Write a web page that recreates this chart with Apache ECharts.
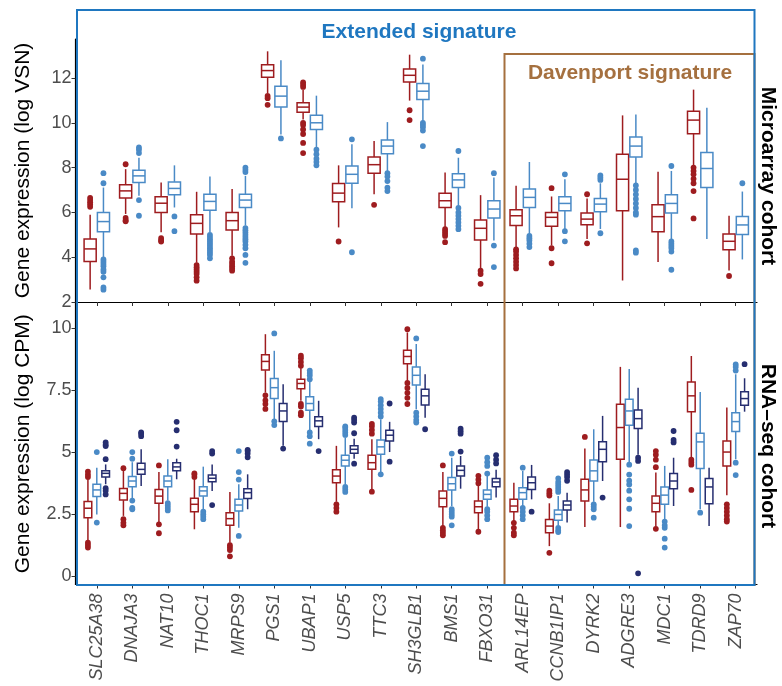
<!DOCTYPE html>
<html><head><meta charset="utf-8">
<script src="https://cdn.jsdelivr.net/npm/echarts@6/dist/echarts.min.js"></script>
<style>html,body{margin:0;padding:0;background:#fff}#c{width:782px;height:686px}</style>
</head><body><div id="c"></div>
<script>
const genes = ['SLC25A38','DNAJA3','NAT10','THOC1','MRPS9','PGS1','UBAP1','USP5','TTC3','SH3GLB1','BMS1','FBXO31','ARL14EP','CCNB1IP1','DYRK2','ADGRE3','MDC1','TDRD9','ZAP70'];
const microTicks = [2,4,6,8,10,12];
const rnaTicks = [0,2.5,5,7.5,10];

// boxes: [lowWhisker, q1, median, q3, highWhisker]
const microRedBox = [
 [2.56,3.81,4.37,4.81,5.90],[5.93,6.64,6.96,7.23,7.93],[5.11,6.0,6.41,6.7,7.33],[3.75,5.04,5.51,5.9,6.92],
 [4.07,5.21,5.63,6.0,7.04],[11.33,12.03,12.33,12.59,13.19],[10.15,10.47,10.7,10.89,11.48],[5.33,6.47,6.86,7.29,8.1],
 [6.81,7.75,8.13,8.47,9.19],[10.99,11.82,12.12,12.4,13.04],[5.33,6.22,6.52,6.86,7.78],[3.51,4.77,5.29,5.66,6.77],
 [4.44,5.41,5.85,6.12,7.19],[4.52,5.38,5.78,5.99,6.71],[4.81,5.45,5.7,5.97,6.62],[2.96,6.07,7.48,8.59,10.33],
 [3.78,5.14,5.81,6.34,7.81],[8.07,9.51,10.12,10.52,11.48],[3.41,4.33,4.71,5.04,5.85]];
const microRedOut = [
 [6.25,6.35,6.45,6.55,6.65],[8.15,5.75,5.65,5.6],[4.85,4.75,4.7],[3.65,3.55,3.45,3.35,3.25,3.1,2.95],
 [3.95,3.8,3.7,3.6,3.5,3.4],[11.2,11.1,10.8],[11.6,11.7,11.8,10.0,9.9,9.7,9.5,9.1,8.65],[4.7],
 [6.34],[10.56,10.12],[5.25,5.15,5.05,4.95,4.67],[3.4,3.25,2.81],
 [4.35,4.25,4.1,3.95,3.8,3.65,3.5],[7.08,4.4,3.73],[6.81,4.62],[],
 [],[8.0,7.85,7.7,7.5,7.3,6.95,5.73],[3.16]];
const microBlueBox = [
 [4.0,5.14,5.59,6.0,7.11],[6.74,7.33,7.63,7.88,8.44],[6.22,6.79,7.07,7.36,8.1],[5.11,6.1,6.49,6.81,7.6],
 [5.41,6.22,6.55,6.81,7.63],[9.48,10.71,11.19,11.63,12.79],[8.89,9.7,10.0,10.34,11.21],[6.18,7.3,7.7,8.07,9.04],
 [7.85,8.62,8.96,9.23,10.03],[10.07,11.04,11.41,11.75,12.6],[6.3,7.11,7.45,7.73,8.44],[4.74,5.75,6.15,6.52,7.56],
 [5.04,6.22,6.67,7.04,8.25],[5.26,6.07,6.4,6.7,7.48],[5.26,6.03,6.37,6.62,7.3],[7.29,8.47,8.96,9.36,10.37],
 [4.81,5.97,6.4,6.79,7.85],[4.81,7.11,7.96,8.67,10.67],[3.9,5.01,5.44,5.82,6.93]];
const microBlueOut = [
 [7.3,7.75,3.9,3.8,3.7,3.6,3.45,3.35,3.1,2.65,2.55],[8.9,8.8,8.65,6.55,5.85],[5.82,5.16],
 [5.0,4.9,4.8,4.7,4.6,4.5,4.4,4.3,4.2,4.1,3.95],[7.8,7.9,8.0,5.3,5.2,5.1,5.0,4.9,4.8,4.7,4.55,4.4,4.1,3.75],
 [9.3],[8.8,8.6,8.4,8.25,8.1],[9.26,4.22],[7.75,7.6,7.4,7.1,6.95],[12.86,10.0,9.9,9.8,9.65,8.96],
 [8.74,6.2,6.0,5.85,5.7,5.55,5.4,5.25],[7.75,4.52,3.56],[4.95,4.85,4.75,4.6,4.45],[7.7,5.16,4.71],
 [7.45,7.55,7.65,5.07],[7.2,7.0,6.8,6.6,6.4,6.2,6.0,5.9,4.3,4.2],[8.07,4.7,4.6,4.5,4.4,4.25,3.44],[],[7.3]];

const rnaRedBox = [
 [1.42,2.36,2.74,3.01,3.9],[2.43,3.07,3.34,3.54,4.25],[2.16,2.94,3.23,3.5,4.2],[1.89,2.6,2.9,3.14,3.9],
 [1.35,2.05,2.32,2.56,3.4],[7.41,8.32,8.67,8.94,9.77],[7.08,7.57,7.78,7.95,8.42],[3.0,3.77,4.04,4.29,5.26],
 [3.5,4.31,4.58,4.88,5.53],[7.88,8.58,8.87,9.12,9.84],[2.02,2.8,3.14,3.44,4.2],[1.89,2.56,2.8,3.03,3.65],
 [2.22,2.6,2.83,3.1,3.77],[1.21,1.75,2.02,2.29,2.94],[1.98,3.03,3.48,3.91,5.15],[1.98,4.72,6.0,6.94,8.45],
 [2.0,2.6,2.94,3.23,4.18],[4.8,6.64,7.28,7.84,8.89],[3.26,4.45,5.01,5.46,6.81]];
const rnaRedOut = [
 [4.0,4.1,4.22,1.35,1.25,1.15],[4.36,2.3,2.15,2.05],[4.47,2.09,1.73],[4.0,4.1,4.15],[1.25,1.15,1.05,0.8],
 [7.3,7.1,6.95,6.75],[8.5,8.65,8.8,8.9,6.95,6.85,6.6,6.5],[2.9,2.75,2.6],[5.75,5.9,6.05,6.15,3.41],
 [9.97,7.8,7.6,7.4,7.2,6.95],[4.47,1.95,1.85,1.75,1.65],[3.75,3.9,4.05,1.79],[2.15,1.95,1.75,1.65],
 [3.25,3.35,3.45,0.94],[5.62],[],[4.4,4.7,4.9,5.05,1.91],[4.7,4.6,4.5,3.48],[2.9,2.75,2.6,2.45,2.3,2.2]];
const rnaBlueBox = [
 [2.49,3.21,3.48,3.71,4.38],[3.14,3.61,3.84,4.02,4.6],[3.05,3.61,3.84,4.04,4.72],[2.7,3.23,3.44,3.61,4.42],
 [1.95,2.63,2.87,3.1,3.71],[6.33,7.17,7.61,7.98,9.1],[5.86,6.7,6.97,7.24,7.85],[3.71,4.45,4.68,4.88,5.6],
 [4.2,4.92,5.22,5.5,6.33],[6.74,7.72,8.11,8.45,9.37],[2.83,3.48,3.73,3.98,4.78],[2.8,3.1,3.3,3.48,4.04],
 [2.83,3.1,3.37,3.57,4.25],[2.05,2.26,2.49,2.67,3.23],[3.0,3.84,4.25,4.69,5.93],[4.58,6.09,6.67,7.14,8.36],
 [2.29,2.9,3.27,3.6,4.45],[2.7,4.35,5.42,5.77,7.44],[4.72,5.84,6.24,6.6,8.15]];
const rnaBlueOut = [
 [5.01,2.16],[5.01,4.74,3.05,2.75,2.7],[2.95,2.85,2.75,2.65],[2.6,2.5,2.4,2.3],[5.05,4.2,3.9,1.62],
 [9.8,6.25,6.1],[7.95,8.1,8.2,8.3,5.8,5.65,5.35],[5.7,5.8,5.9,6.0,6.05,3.6,3.5,3.4],
 [6.45,6.6,6.75,6.9,7.05,7.15,4.11],[9.6,6.6,6.45,6.3,6.2],[4.95,2.7,2.6,2.5,2.4,2.05],
 [4.14,4.45,4.6,4.78,2.7,2.6,2.45,2.3],[4.38,2.75,2.6,2.45,2.3],[3.4,3.5,3.6,3.7,3.8,3.95,1.95,1.85,1.78],
 [2.9,2.8,2.7,2.36],[4.5,4.1,3.85,3.7,3.45,3.1,2.72,2.02],[2.2,2.05,1.95,1.51,1.15],[2.56],[8.3,8.45,8.55,4.58,4.08]];
const rnaNavyBox = [
 [3.71,4.0,4.15,4.25,4.51],[3.64,4.11,4.31,4.56,5.12],[3.91,4.25,4.41,4.58,4.74],[3.44,3.81,3.95,4.08,4.51],
 [2.7,3.13,3.37,3.53,4.11],[5.26,6.24,6.67,6.97,7.75],[5.53,6.04,6.27,6.44,7.08],[4.74,4.96,5.12,5.26,5.55],
 [5.01,5.46,5.69,5.89,6.23],[6.4,6.91,7.28,7.55,8.15],[3.53,4.04,4.27,4.45,4.85],[3.17,3.61,3.8,3.94,4.29],
 [3.1,3.5,3.77,4.0,4.49],[2.16,2.67,2.87,3.03,3.37],[3.84,4.62,5.12,5.43,6.47],[4.9,5.96,6.36,6.71,7.61],
 [2.83,3.53,3.84,4.14,4.78],[2.02,2.92,3.6,3.94,4.38],[6.64,6.9,7.17,7.45,7.99]];
const rnaNavyOut = [
 [4.72,5.25,5.3,5.4,3.55,3.45,3.3],[5.65,5.75,5.8],[5.23,5.89,6.23],[4.95,5.05,2.87],[4.8,4.95,5.05,5.1],
 [5.15],[5.05],[6.2,6.3,6.4,5.77,4.54],[6.97,4.62],[5.93],[5.03,5.75,5.85,5.95],[4.55,4.7,4.88],[2.6],
 [3.85,4.0,4.1,4.2],[3.17],[4.78,4.65,0.11],[5.4,5.5,5.86],[],[8.56]];

const C_RED = '#9e1c1f', C_BLUE = '#4a8ac6', C_NAVY = '#262e70';
const FONT = "'Liberation Sans', Arial, sans-serif";
const DODGE = 0.75;

function offsetX(api, k, n) {
  const band = api.size([1, 0])[0];
  const slot = band * DODGE / n;
  return { dx: (k - (n - 1) / 2) * slot, slot: slot };
}
function boxSeries(box, k, n, color, gi) {
  return {
    type: 'custom', coordinateSystem: 'cartesian2d', xAxisIndex: gi, yAxisIndex: gi,
    data: box.map((b, i) => [i].concat(b)),
    encode: { x: 0, y: [1, 2, 3, 4, 5] },
    renderItem: function (params, api) {
      const x = api.value(0);
      const o = offsetX(api, k, n);
      const cx = api.coord([x, api.value(3)])[0] + o.dx;
      const py = v => api.coord([x, api.value(v)])[1];
      const lo = py(1), q1 = py(2), md = py(3), q3 = py(4), hi = py(5);
      const w = o.slot - 1.2;
      const st = { stroke: color, lineWidth: 1.5, fill: null };
      return { type: 'group', children: [
        { type: 'line', shape: { x1: cx, y1: hi, x2: cx, y2: q3 }, style: st },
        { type: 'line', shape: { x1: cx, y1: q1, x2: cx, y2: lo }, style: st },
        { type: 'rect', shape: { x: cx - w / 2, y: q3, width: w, height: q1 - q3 }, style: { stroke: color, lineWidth: 1.5, fill: '#fff' } },
        { type: 'line', shape: { x1: cx - w / 2, y1: md, x2: cx + w / 2, y2: md }, style: st }
      ]};
    }
  };
}
function outSeries(outs, k, n, color, gi) {
  const data = [];
  outs.forEach((arr, i) => arr.forEach(v => data.push([i, v])));
  return {
    type: 'custom', coordinateSystem: 'cartesian2d', xAxisIndex: gi, yAxisIndex: gi,
    data: data, encode: { x: 0, y: 1 },
    renderItem: function (params, api) {
      const o = offsetX(api, k, n);
      const p = api.coord([api.value(0), api.value(1)]);
      return { type: 'circle', shape: { cx: p[0] + o.dx, cy: p[1], r: 2.9 }, style: { fill: color } };
    }
  };
}

const idx = genes.map((g, i) => i);
function xAxis(gi, showLabels) {
  return {
    type: 'value', gridIndex: gi, min: -0.6, max: 18.6,
    axisLine: { show: true, onZero: false, lineStyle: { color: '#000', width: 1.2 } },
    axisTick: { show: true, length: 4, customValues: idx, lineStyle: { color: '#333' } },
    splitLine: { show: false },
    axisLabel: { show: showLabels, customValues: idx, rotate: 90, margin: 9,
      formatter: v => genes[Math.round(v)], fontStyle: 'italic', fontSize: 18, color: '#4d4d4d', fontFamily: FONT }
  };
}
function yAxis(gi, min, max, ticks, name) {
  return {
    type: 'value', gridIndex: gi, min: min, max: max,
    name: name, nameLocation: 'middle', nameGap: 42,
    nameTextStyle: { fontSize: 21, color: '#000', fontFamily: FONT },
    axisLine: { show: true, onZero: false, lineStyle: { color: '#000', width: 1.2 } },
    axisTick: { show: true, length: 4, customValues: ticks, lineStyle: { color: '#333' } },
    splitLine: { show: false },
    axisLabel: { customValues: ticks, margin: 4, fontSize: 18, color: '#4d4d4d', fontFamily: FONT }
  };
}

const chart = echarts.init(document.getElementById('c'), null, { renderer: 'canvas' });
chart.setOption({
  animation: false,
  backgroundColor: '#fff',
  grid: [
    { left: 75.5, right: 25, top: 39, height: 263 },
    { left: 75.5, right: 25, top: 303, height: 281.5 }
  ],
  xAxis: [xAxis(0, false), xAxis(1, true)],
  yAxis: [yAxis(0, 2, 13.74, microTicks, 'Gene expression (log VSN)'),
          yAxis(1, -0.34, 11.03, rnaTicks, 'Gene expression (log CPM)')],
  series: [
    boxSeries(microRedBox, 0, 2, C_RED, 0), outSeries(microRedOut, 0, 2, C_RED, 0),
    boxSeries(microBlueBox, 1, 2, C_BLUE, 0), outSeries(microBlueOut, 1, 2, C_BLUE, 0),
    boxSeries(rnaRedBox, 0, 3, C_RED, 1), outSeries(rnaRedOut, 0, 3, C_RED, 1),
    boxSeries(rnaBlueBox, 1, 3, C_BLUE, 1), outSeries(rnaBlueOut, 1, 3, C_BLUE, 1),
    boxSeries(rnaNavyBox, 2, 3, C_NAVY, 1), outSeries(rnaNavyOut, 2, 3, C_NAVY, 1)
  ],
  graphic: [
    { type: 'rect', z: 100, shape: { x: 504.5, y: 54, width: 250, height: 531 },
      style: { fill: null, stroke: '#a5703f', lineWidth: 2 } },
    { type: 'rect', z: 101, shape: { x: 77, y: 10, width: 677.5, height: 575 },
      style: { fill: null, stroke: '#1f77c0', lineWidth: 2 } },
    { type: 'text', z: 102, x: 419, y: 32, style: { text: 'Extended signature', fill: '#1f77c0',
      font: "bold 21px 'Liberation Sans', Arial, sans-serif", align: 'center', verticalAlign: 'middle' } },
    { type: 'text', z: 102, x: 630, y: 73, style: { text: 'Davenport signature', fill: '#a5703f',
      font: "bold 21px 'Liberation Sans', Arial, sans-serif", align: 'center', verticalAlign: 'middle' } },
    { type: 'text', z: 102, x: 768, y: 176, rotation: -Math.PI / 2, style: { text: 'Microarray cohort', fill: '#000',
      font: "bold 21px 'Liberation Sans', Arial, sans-serif", align: 'center', verticalAlign: 'middle' } },
    { type: 'text', z: 102, x: 768, y: 446, rotation: -Math.PI / 2, style: { text: 'RNA–seq cohort', fill: '#000',
      font: "bold 21px 'Liberation Sans', Arial, sans-serif", align: 'center', verticalAlign: 'middle' } }
  ]
});
</script></body></html>
